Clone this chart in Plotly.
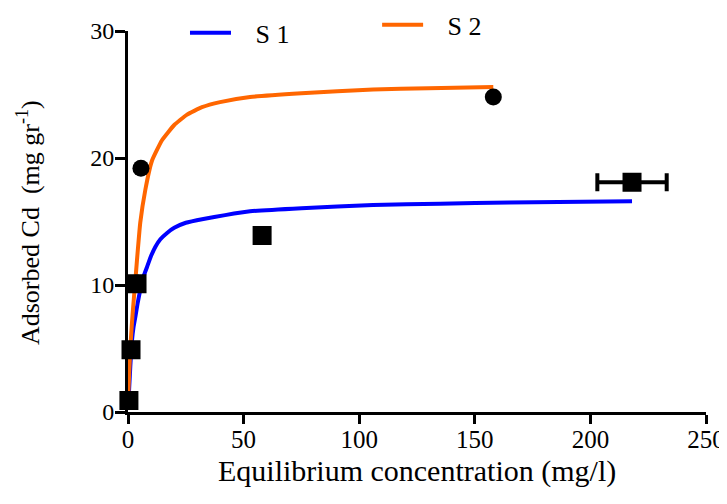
import plotly.graph_objects as go

# Fitted curves
s1_curve_x = [0.4, 1.0, 1.7, 2.4, 3.2, 4.2, 5.3, 6.6, 8.2, 10.0, 11.8, 14.0, 16.9, 20, 25,
              32.6, 42, 52.8, 75, 106, 135, 165, 218]
s1_curve_y = [1.5, 3.6, 5.6, 6.7, 7.5, 8.6, 9.6, 10.6, 11.4, 12.3, 13.0, 13.6, 14.1, 14.5, 14.9,
              15.2, 15.5, 15.8, 16.05, 16.3, 16.4, 16.5, 16.6]
s2_curve_x = [0.1, 0.5, 0.9, 1.3, 1.7, 2.2, 3.2, 3.9, 5.3, 7.5, 10.4, 14.7, 20, 25.4, 32,
              39.8, 52.8, 75, 106, 130, 158]
s2_curve_y = [1.2, 3.0, 4.6, 5.9, 7.0, 8.2, 10.4, 12.0, 14.9, 17.5, 19.8, 21.4, 22.6, 23.4, 24.0,
              24.4, 24.8, 25.1, 25.4, 25.5, 25.6]

# Measured points
s1_x = [0.4, 1.3, 3.9, 58, 218]
s1_y = [0.9, 4.9, 10.1, 13.9, 18.1]
s1_xerr = [0, 0, 0, 0, 15]
s2_x = [0.4, 1.3, 3.9, 5.6, 158]
s2_y = [0.9, 4.9, 10.1, 19.2, 24.8]

x_ticks = [0, 50, 100, 150, 200, 250]
y_ticks = [0, 10, 20, 30]

font = "Liberation Serif, Times New Roman, serif"
pad = "\u00a0\u00a0\u00a0"

fig = go.Figure()
fig.add_trace(go.Scatter(x=s1_curve_x, y=s1_curve_y, mode="lines", name=pad + "S 1",
                         line=dict(color="#0000FF", width=4, shape="spline", smoothing=0.4),
                         legend="legend", cliponaxis=False))
fig.add_trace(go.Scatter(x=s2_curve_x, y=s2_curve_y, mode="lines", name=pad + "S 2",
                         line=dict(color="#FF6600", width=4, shape="spline", smoothing=0.4),
                         legend="legend2", cliponaxis=False))
fig.add_trace(go.Scatter(x=s2_x, y=s2_y, mode="markers", showlegend=False,
                         marker=dict(symbol="circle", size=17, color="black"),
                         cliponaxis=False))
fig.add_trace(go.Scatter(x=s1_x, y=s1_y, mode="markers", showlegend=False,
                         marker=dict(symbol="square", size=17, color="black",
                                     line=dict(color="black", width=2)),
                         error_x=dict(type="data", array=s1_xerr, color="black",
                                      thickness=4, width=9),
                         cliponaxis=False))

fig.update_layout(
    width=727, height=504,
    margin=dict(l=120, r=29, t=23, b=100, autoexpand=False),
    plot_bgcolor="white", paper_bgcolor="white",
    font=dict(family=font, color="black", size=24),
    showlegend=True,
    legend=dict(x=0.0986, y=0.995, xanchor="left", yanchor="middle", itemwidth=41,
                bgcolor="rgba(0,0,0,0)", font=dict(size=26, family=font)),
    legend2=dict(x=0.431, y=1.016, xanchor="left", yanchor="middle", itemwidth=41,
                 bgcolor="rgba(0,0,0,0)", font=dict(size=26, family=font)),
    xaxis=dict(range=[0, 250], tickvals=x_ticks,
               showline=True, linecolor="black", linewidth=3,
               ticks="outside", ticklen=9, tickwidth=3, tickcolor="black",
               showgrid=False, zeroline=False, ticklabelstandoff=-6,
               tickfont=dict(size=25, family=font)),
    yaxis=dict(range=[0, 30], tickvals=y_ticks,
               showline=True, linecolor="black", linewidth=3,
               ticks="outside", ticklen=10, tickwidth=3, tickcolor="black",
               showgrid=False, zeroline=False, ticklabelstandoff=-4,
               tickfont=dict(size=24, family=font)),
    annotations=[
        dict(text="Adsorbed Cd  (mg gr<sup>-1</sup>)", textangle=-90,
             xref="paper", yref="paper", x=-0.173, y=0.496,
             xanchor="center", yanchor="middle", showarrow=False,
             font=dict(size=26, family=font)),
        dict(text="Equilibrium concentration (mg/l)",
             xref="paper", yref="paper", x=0.5, y=-0.156,
             xanchor="center", yanchor="middle", showarrow=False,
             font=dict(size=30, family=font)),
    ],
)

fig.write_html("out.html")
